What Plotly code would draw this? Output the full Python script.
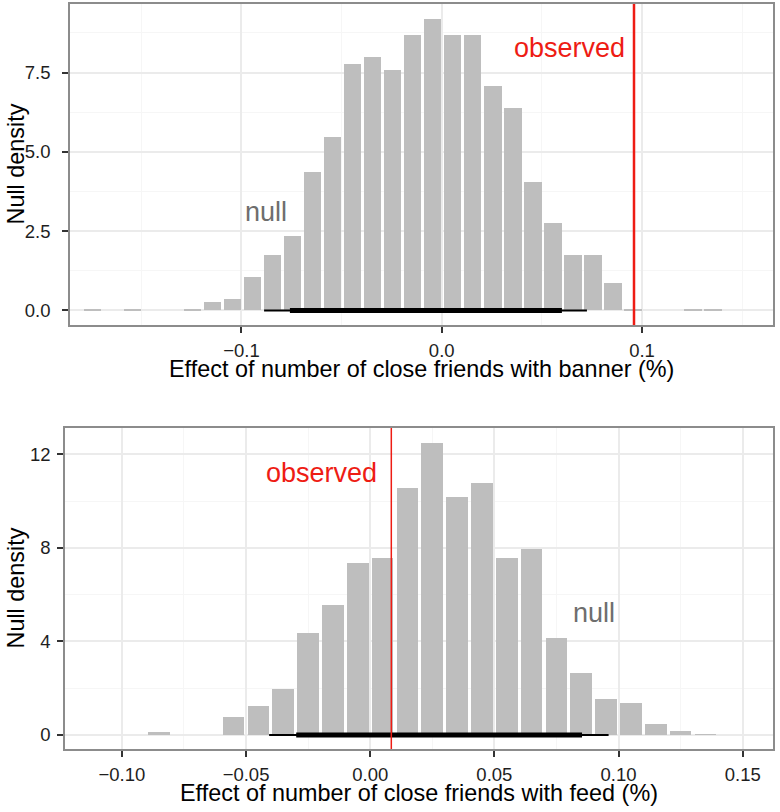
import plotly.graph_objects as go

# ---------------- data ----------------
# Top panel: banner
top_bin_centers = [-0.1745, -0.1645, -0.1545, -0.1445, -0.1345, -0.1245,
                   -0.1145, -0.1045, -0.0945, -0.0845, -0.0745, -0.0645,
                   -0.0545, -0.0445, -0.0345, -0.0245, -0.0145, -0.0045,
                   0.0055, 0.0155, 0.0255, 0.0355, 0.0455, 0.0555,
                   0.0655, 0.0755, 0.0855, 0.0955, 0.1055, 0.1155,
                   0.1255, 0.1355]
top_density = [0.05, 0.0, 0.05, 0.0, 0.0, 0.05,
               0.26, 0.35, 1.06, 1.75, 2.36, 4.37,
               5.48, 7.78, 7.98, 7.57, 8.69, 9.19,
               8.69, 8.69, 7.09, 6.38, 4.05, 2.76,
               1.75, 1.75, 0.85, 0.05, 0.0, 0.0,
               0.05, 0.05]
top_observed = 0.096
top_interval_outer = [-0.0887, 0.0725]
top_interval_inner = [-0.0758, 0.0600]
top_xlabel = "Effect of number of close friends with banner (%)"

# Bottom panel: feed
bot_bin_centers = [-0.085, -0.075, -0.065, -0.055, -0.045, -0.035, -0.025,
                   -0.015, -0.005, 0.005, 0.015, 0.025, 0.035, 0.045,
                   0.055, 0.065, 0.075, 0.085, 0.095, 0.105, 0.115,
                   0.125, 0.135]
bot_density = [0.14, 0.0, 0.0, 0.75, 1.25, 1.95, 4.34,
               5.54, 7.36, 7.56, 10.56, 12.48, 10.15, 10.75,
               7.56, 7.94, 4.16, 2.66, 1.54, 1.35, 0.46,
               0.17, 0.03]
bot_observed = 0.0085
bot_interval_outer = [-0.0407, 0.0960]
bot_interval_inner = [-0.0298, 0.0853]
bot_xlabel = "Effect of number of close friends with feed (%)"

ylabel = "Null density"

# ---------------- geometry ----------------
W, H = 780, 812


def px_x(x):
    return x / W


def px_y(y):
    return (H - y) / H


FONT = "Liberation Sans, Arial, Helvetica, sans-serif"
BAR = "#bebebe"
RED = "#ee1c14"
GREY_TXT = "#6e6e6e"
BINW = 0.01

fig = go.Figure()

# top panel
fig.add_trace(go.Bar(x=top_bin_centers, y=top_density, width=BINW * 0.87,
                     marker=dict(color=BAR, line=dict(width=0)),
                     xaxis="x", yaxis="y", hoverinfo="x+y"))
fig.add_trace(go.Scatter(x=top_interval_outer, y=[0, 0], mode="lines",
                         line=dict(color="black", width=2), xaxis="x", yaxis="y"))
fig.add_trace(go.Scatter(x=top_interval_inner, y=[0, 0], mode="lines",
                         line=dict(color="black", width=5), xaxis="x", yaxis="y"))

# bottom panel
fig.add_trace(go.Bar(x=bot_bin_centers, y=bot_density, width=BINW * 0.87,
                     marker=dict(color=BAR, line=dict(width=0)),
                     xaxis="x2", yaxis="y2", hoverinfo="x+y"))
fig.add_trace(go.Scatter(x=bot_interval_outer, y=[0, 0], mode="lines",
                         line=dict(color="black", width=2), xaxis="x2", yaxis="y2"))
fig.add_trace(go.Scatter(x=bot_interval_inner, y=[0, 0], mode="lines",
                         line=dict(color="black", width=5), xaxis="x2", yaxis="y2"))

axis_common = dict(
    showline=True, linecolor="#8c8c8c", linewidth=1.5, mirror=True,
    ticks="outside", ticklen=6, tickwidth=2, tickcolor="#333333",
    showgrid=True, gridcolor="#ebebeb", gridwidth=1.5, zeroline=False,
    tickfont=dict(family=FONT, size=18.5, color="#1e1e1e"),
    fixedrange=True, automargin=False,
)
minor_common = dict(showgrid=True, gridcolor="#f6f6f6", gridwidth=1, ticks="")

fig.update_layout(
    template="none",
    width=W, height=H,
    margin=dict(l=0, r=0, t=0, b=0, pad=0),
    paper_bgcolor="white", plot_bgcolor="white",
    showlegend=False, bargap=0,
    font=dict(family=FONT, color="black"),
    xaxis=dict(domain=[px_x(70), px_x(773)], range=[-0.1856, 0.1654], anchor="y",
               tickvals=[-0.1, 0.0, 0.1], tickformat=".1f", ticklabelstandoff=2,
               minor=dict(tickvals=[-0.15, -0.05, 0.05, 0.15], **minor_common),
               **axis_common),
    yaxis=dict(domain=[px_y(325), px_y(4)], range=[-0.46, 9.66], anchor="x",
               tickvals=[0, 2.5, 5.0, 7.5], tickformat=".1f", ticklabelstandoff=8,
               minor=dict(tickvals=[1.25, 3.75, 6.25, 8.75], **minor_common),
               **axis_common),
    xaxis2=dict(domain=[px_x(65), px_x(773)], range=[-0.1229, 0.1622], anchor="y2",
                tickvals=[-0.10, -0.05, 0.0, 0.05, 0.10, 0.15], tickformat=".2f",
                ticklabelstandoff=2,
                minor=dict(tickvals=[-0.075, -0.025, 0.025, 0.075, 0.125], **minor_common),
                **axis_common),
    yaxis2=dict(domain=[px_y(749), px_y(428)], range=[-0.6, 13.12], anchor="x2",
                tickvals=[0, 4, 8, 12], tickformat="d", ticklabelstandoff=3,
                minor=dict(tickvals=[2, 6, 10], **minor_common),
                **axis_common),
)

# observed lines
fig.add_shape(type="line", xref="x", yref="y domain", x0=top_observed, x1=top_observed,
              y0=0, y1=1, line=dict(color=RED, width=2.5))
fig.add_shape(type="line", xref="x2", yref="y2 domain", x0=bot_observed, x1=bot_observed,
              y0=0, y1=1, line=dict(color=RED, width=1.5))

ann_font = dict(family=FONT, size=27)
fig.add_annotation(x=0.0926, y=8.28, xref="x", yref="y", text="observed", showarrow=False,
                   xanchor="right", yanchor="middle", font=dict(color=RED, **ann_font))
fig.add_annotation(x=-0.0877, y=3.09, xref="x", yref="y", text="null", showarrow=False,
                   xanchor="center", yanchor="middle", font=dict(color=GREY_TXT, **ann_font))
fig.add_annotation(x=0.0034, y=11.2, xref="x2", yref="y2", text="observed", showarrow=False,
                   xanchor="right", yanchor="middle", font=dict(color=RED, **ann_font))
fig.add_annotation(x=0.0903, y=5.2, xref="x2", yref="y2", text="null", showarrow=False,
                   xanchor="center", yanchor="middle", font=dict(color=GREY_TXT, **ann_font))

# axis titles
title_font = dict(family=FONT, size=23.4, color="black")
fig.add_annotation(x=px_x(421.5), y=px_y(369), xref="paper", yref="paper", text=top_xlabel,
                   showarrow=False, xanchor="center", yanchor="middle", font=title_font)
fig.add_annotation(x=px_x(419), y=px_y(793), xref="paper", yref="paper", text=bot_xlabel,
                   showarrow=False, xanchor="center", yanchor="middle", font=title_font)
fig.add_annotation(x=px_x(15), y=px_y(164.5), xref="paper", yref="paper", text=ylabel,
                   showarrow=False, textangle=-90, xanchor="center", yanchor="middle",
                   font=title_font)
fig.add_annotation(x=px_x(15), y=px_y(588.5), xref="paper", yref="paper", text=ylabel,
                   showarrow=False, textangle=-90, xanchor="center", yanchor="middle",
                   font=title_font)

# remove the browser's default 8px body margin so the figure fills the window
fig.write_html("out.html", config={"displayModeBar": False},
               post_script="document.body.style.margin='0px';")
